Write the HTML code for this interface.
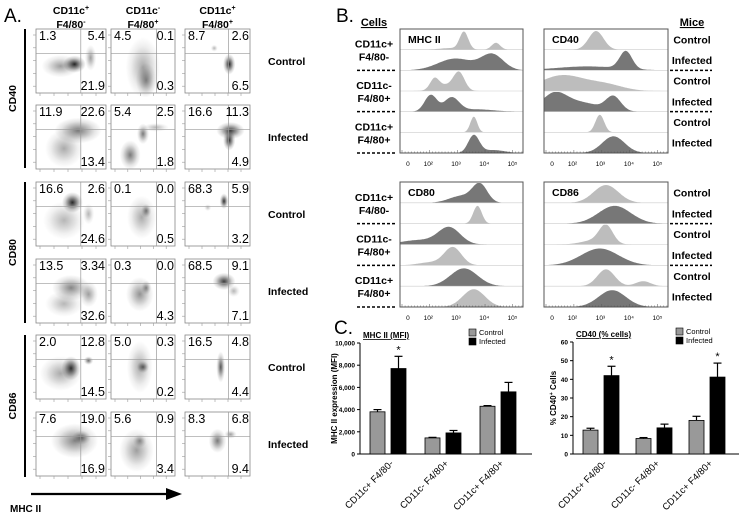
<!DOCTYPE html>
<html><head><meta charset="utf-8"><style>
html,body{margin:0;padding:0;background:#fff}
svg{display:block;font-family:"Liberation Sans",Arial,sans-serif}
</style></head><body>
<svg id="fig" width="740" height="515" viewBox="0 0 740 515" xmlns="http://www.w3.org/2000/svg">
<defs>
<radialGradient id="blob"><stop offset="0" stop-color="#000" stop-opacity="1"/><stop offset="0.35" stop-color="#000" stop-opacity="0.6"/><stop offset="0.7" stop-color="#000" stop-opacity="0.2"/><stop offset="1" stop-color="#000" stop-opacity="0"/></radialGradient>
</defs>
<g id="panelA"></g>
<g id="panelB"></g>
<g id="panelC"></g>
</svg>
<script>
// ===== Panel C data =====
const categories = ["CD11c+ F4/80-", "CD11c- F4/80+", "CD11c+ F4/80+"];
const mhcControl = [3800, 1450, 4300];
const mhcInfected = [7700, 1900, 5600];
const mhcControlErr = [200, 50, 60];
const mhcInfectedErr = [1100, 220, 850];
const mhcTicks = [0, 2000, 4000, 6000, 8000, 10000];
const mhcTickLabels = ["0", "2,000", "4,000", "6,000", "8,000", "10,000"];
const cd40Control = [12.8, 8.3, 18];
const cd40Infected = [42, 14, 41.2];
const cd40ControlErr = [1, 0.5, 2.2];
const cd40InfectedErr = [5, 2, 7.5];
const cd40Ticks = [0, 10, 20, 30, 40, 50, 60];
const mhcStars = [true, false, false];
const cd40Stars = [true, false, true];

// ===== Panel A data =====
const quadValues = [
 [[1.3,5.4,21.9],[4.5,0.1,0.3],[8.7,2.6,6.5]],
 [[11.9,22.6,13.4],[5.4,2.5,1.8],[16.6,11.3,4.9]],
 [[16.6,2.6,24.6],[0.1,0.0,0.5],[68.3,5.9,3.2]],
 [[13.5,3.34,32.6],[0.3,0.0,4.3],[68.5,9.1,7.1]],
 [[2.0,12.8,14.5],[5.0,0.3,0.2],[16.5,4.8,4.4]],
 [[7.6,19.0,16.9],[5.6,0.9,3.4],[8.3,6.8,9.4]]
];
const NS="http://www.w3.org/2000/svg";
function el(tag, attrs, parent, txt){const e=document.createElementNS(NS,tag);for(const k in attrs)e.setAttribute(k,attrs[k]);if(txt!==undefined)e.textContent=txt;parent.appendChild(e);return e;}

// ---------- Panel A ----------
(function(){
const g=document.getElementById('panelA');
let t=el('text',{x:4,y:22,'font-size':19},g,'A.');


const cols=[[36,106,.64],[111,175,.71],[185,250,.67]];
const tops=[29,105,182,259,335,412];const H=64;
const heads=[["CD11c","+","F4/80","-"],["CD11c","-","F4/80","+"],["CD11c","+","F4/80","+"]];
heads.forEach((h,i)=>{const cx=(cols[i][0]+cols[i][1])/2;
 const a=el('text',{x:cx,y:14,'font-size':10.5,'font-weight':'bold','text-anchor':'middle'},g);
 
 
 a.innerHTML=h[0]+'<tspan font-size="7" dy="-4">'+h[1]+'</tspan>';
 const b=el('text',{x:cx,y:28,'font-size':10.5,'font-weight':'bold','text-anchor':'middle'},g);
 
 
 b.innerHTML=h[2]+'<tspan font-size="7" dy="-4">'+h[3]+'</tspan>';
});
const blobs=[
 [[[.55,.55,.12,.1,.9],[.35,.58,.2,.13,.4],[.78,.45,.06,.15,.4]],[[.5,.6,.2,.35,.35],[.55,.8,.12,.2,.45]],[[.68,.55,.07,.12,.9],[.45,.3,.04,.04,.3]]],
 [[[.6,.4,.25,.15,.55],[.4,.68,.2,.22,.35]],[[.5,.45,.07,.12,.55],[.3,.78,.12,.17,.55],[.7,.35,.15,.05,.3]],[[.7,.4,.16,.1,.8],[.68,.55,.07,.12,.85]]],
 [[[.52,.32,.11,.12,.9],[.4,.6,.22,.22,.3],[.75,.5,.06,.12,.3]],[[.48,.55,.17,.25,.35],[.55,.45,.06,.08,.5]],[[.6,.3,.05,.09,.85],[.35,.4,.04,.04,.25]]],
 [[[.5,.45,.2,.15,.5],[.75,.55,.1,.15,.4],[.4,.7,.2,.15,.3]],[[.45,.55,.16,.2,.45],[.55,.45,.06,.08,.45]],[[.6,.35,.13,.1,.8],[.75,.5,.07,.07,.3]]],
 [[[.5,.52,.1,.14,.85],[.35,.6,.22,.2,.35],[.75,.4,.05,.05,.6]],[[.45,.5,.15,.3,.35],[.5,.5,.07,.07,.6]],[[.55,.5,.05,.18,.7]]],
 [[[.55,.45,.25,.2,.5],[.65,.4,.1,.08,.5]],[[.4,.6,.2,.25,.4],[.45,.45,.08,.08,.4]],[[.5,.45,.1,.14,.55],[.7,.35,.07,.05,.4]]]
];
tops.forEach((ty,r)=>{cols.forEach((c,ci)=>{
 const w=c[1]-c[0];
 const cell=el('g',{},g);
 
 
 blobs[r][ci].forEach(b=>{el('ellipse',{cx:c[0]+b[0]*w,cy:ty+b[1]*H,rx:b[2]*w*1.35,ry:b[3]*H*1.35,fill:'url(#blob)',opacity:Math.min(1,b[4]*0.95)},cell);});
 el('rect',{x:c[0],y:ty,width:w,height:H,fill:'none',stroke:'#888','stroke-width':0.8},cell);
 const vx=c[0]+c[2]*w, hy=ty+0.38*H;
 el('line',{x1:vx,y1:ty,x2:vx,y2:ty+H,stroke:'#999','stroke-width':0.7},cell);
 el('line',{x1:c[0],y1:hy,x2:c[1],y2:hy,stroke:'#999','stroke-width':0.7},cell);
 for(let k=0;k<5;k++){el('line',{x1:c[0]+4+k*w/5,y1:ty+H,x2:c[0]+4+k*w/5,y2:ty+H+3,stroke:'#999','stroke-width':0.6},cell);
   el('line',{x1:c[0]-3,y1:ty+6+k*H/5,x2:c[0],y2:ty+6+k*H/5,stroke:'#999','stroke-width':0.6},cell);}
 const q=quadValues[r][ci];
 const fmt=v=>{const s=String(v);return s.includes('.')?s:s+'.0';};
 el('text',{x:c[0]+3,y:ty+11,'font-size':12.5},cell,fmt(q[0]));
 el('text',{x:c[1]-1,y:ty+11,'font-size':12.5,'text-anchor':'end'},cell,fmt(q[1]));
 el('text',{x:c[1]-1,y:ty+H-3,'font-size':12.5,'text-anchor':'end'},cell,fmt(q[2]));
});
 const lab=el('text',{x:268,y:ty+H/2+4,'font-size':10.5,'font-weight':'bold'},g,r%2?'Infected':'Control');
 
 
});
[['CD40',29,168],['CD80',182,323],['CD86',335,477]].forEach(m=>{
 el('line',{x1:25,y1:m[1],x2:25,y2:m[2],stroke:'#000','stroke-width':2},g);
 const yl=el('text',{x:16,y:(m[1]+m[2])/2,'font-size':10.5,'font-weight':'bold','text-anchor':'middle',transform:'rotate(-90 16 '+((m[1]+m[2])/2)+')'},g,m[0]);
 
 
});
el('line',{x1:31,y1:494,x2:168,y2:494,stroke:'#000','stroke-width':2.2},g);
el('polygon',{points:'166,488 182,494 166,500',fill:'#000'},g);
const xl=el('text',{x:10,y:512,'font-size':10,'font-weight':'bold'},g,'MHC II');


})();

// ---------- Panel B ----------
const histMHC=[["l",[[.52,.035,.9],[.78,.035,.35],[.4,.08,.08]]],["d",[[.45,.14,.6],[.75,.09,.8]]],["l",[[.28,.035,.5],[.48,.045,.9],[.36,.08,.3]]],["d",[[.25,.05,.85],[.42,.06,.7],[.62,.14,.12]]],["l",[[.6,.028,.8]]],["d",[[.6,.045,.9],[.76,.09,.15]]]];
const histCD40=[["l",[[.42,.06,.95]]],["d",[[.66,.05,.9],[.35,.25,.2]]],["l",[[.15,.18,.8],[.5,.14,.3]]],["d",[[.08,.1,.85],[.56,.06,.72],[.3,.15,.45]]],["l",[[.45,.035,.9]]],["d",[[.56,.09,.85]]]];
const histCD80=[["d",[[.65,.06,.9],[.5,.1,.35]]],["l",[[.63,.035,.9]]],["d",[[.4,.09,.85],[.15,.14,.22]]],["l",[[.43,.07,.9],[.25,.1,.15]]],["d",[[.52,.11,.9]]],["l",[[.6,.09,.9]]]];
const histCD86=[["l",[[.5,.1,.9]]],["d",[[.57,.13,.9]]],["l",[[.5,.055,.9],[.4,.1,.2]]],["d",[[.45,.15,.85]]],["l",[[.5,.07,.85],[.8,.06,.25]]],["d",[[.55,.11,.85]]]];
(function(){
const g=document.getElementById('panelB');
let t=el('text',{x:336,y:22,'font-size':19},g,'B.');


const boxes=[[400,523,29,153,'MHC II',histMHC],[544,668,29,153,'CD40',histCD40],[400,523,182,307,'CD80',histCD80],[544,668,182,307,'CD86',histCD86]];
boxes.forEach(b=>{
 const[x0,x1,y0,y1,name,data]=b;const w=x1-x0,rh=(y1-y0)/6;
 const bx=el('g',{},g);
 
 
 data.forEach((row,i)=>{
  const base=y0+(i+1)*rh;
  let d='M'+x0+','+base;
  for(let s=0;s<=120;s++){const f=s/120;let v=0;row[1].forEach(p=>{v+=p[2]*Math.exp(-0.5*Math.pow((f-p[0])/p[1],2));});v=Math.min(v,1);d+=' L'+(x0+f*w).toFixed(1)+','+(base-v*rh*0.95).toFixed(1);}
  d+=' L'+x1+','+base+' Z';
  const p=el('path',{d:d,fill:row[0]==='l'?'#bdbdbd':'#777'},bx);
  
  
  el('line',{x1:x0,y1:base,x2:x1,y2:base,stroke:'#ccc','stroke-width':0.6},bx);
 });
 el('rect',{x:x0,y:y0,width:w,height:y1-y0,fill:'none',stroke:'#555','stroke-width':1},bx);
 el('text',{x:x0+8,y:y0+14,'font-size':10.5,'font-weight':'bold'},bx,name);
 const tl=[['0',.065],['10²',.23],['10³',.455],['10⁴',.685],['10⁵',.915]];
 tl.forEach(tk=>el('text',{x:x0+tk[1]*w,y:y1+13,'font-size':6.5,'text-anchor':'middle'},bx,tk[0]));
 for(let k=0;k<40;k++){el('line',{x1:x0+2+k*w/40,y1:y1,x2:x0+2+k*w/40,y2:y1-(k%9===0?3:1.5),stroke:'#555','stroke-width':0.5},bx);}
});
const c1=el('text',{x:374,y:26,'font-size':11,'font-weight':'bold','text-anchor':'middle','text-decoration':'underline'},g,'Cells');


const m1=el('text',{x:692,y:26,'font-size':11,'font-weight':'bold','text-anchor':'middle','text-decoration':'underline'},g,'Mice');


const cellNames=[['CD11c+','F4/80-'],['CD11c-','F4/80+'],['CD11c+','F4/80+']];
[[29,153],[182,307]].forEach(bb=>{const rh=(bb[1]-bb[0])/6;
 cellNames.forEach((cn,i)=>{const cy=bb[0]+rh*(2*i+1);
  el('text',{x:374,y:cy-2,'font-size':10.5,'font-weight':'bold','text-anchor':'middle'},g,cn[0]);
  el('text',{x:374,y:cy+11,'font-size':10.5,'font-weight':'bold','text-anchor':'middle'},g,cn[1]);
  const dy=bb[0]+rh*2*(i+1);
  el('line',{x1:357,y1:dy,x2:397,y2:dy,stroke:'#000','stroke-width':1.5,'stroke-dasharray':'3,2'},g);
  if(i<2)el('line',{x1:670,y1:dy,x2:712,y2:dy,stroke:'#000','stroke-width':1.5,'stroke-dasharray':'3,2'},g);
 });
 for(let i=0;i<6;i++){const m=el('text',{x:692,y:bb[0]+rh*(i+0.5)+4,'font-size':10.5,'font-weight':'bold','text-anchor':'middle'},g,i%2?'Infected':'Control');
  
  }
});
})();

// ---------- Panel C ----------
(function(){
const g=document.getElementById('panelC');
let t=el('text',{x:334,y:334,'font-size':19},g,'C.');


function chart(opt){
 const{x0,x1,yTop,yBot,max,ticks,tickLabels,ctrl,inf,ce,ie,stars,title,ytitle,ytx,pitch,first,legX}=opt;
 const cg=el('g',{},g);
 
 
 const ys=v=>yBot-(v/max)*(yBot-yTop);
 const bw=15;
 el('line',{x1:x0,y1:yTop,x2:x0,y2:yBot,stroke:'#000','stroke-width':1},cg);
 el('line',{x1:x0,y1:yBot,x2:x1,y2:yBot,stroke:'#000','stroke-width':1},cg);
 ticks.forEach((tv,i)=>{const y=ys(tv);el('line',{x1:x0-3,y1:y,x2:x0,y2:y,stroke:'#000'},cg);
  const tl=el('text',{x:x0-5,y:y+2.5,'font-size':6.5,'font-weight':'bold','text-anchor':'end'},cg,tickLabels[i]);
  
  });
 categories.forEach((cat,i)=>{
  const gx=first+i*pitch;
  [[ctrl[i],ce[i],'#999',gx],[inf[i],ie[i],'#000',gx+bw+6]].forEach((b,j)=>{
   const y=ys(b[0]),ye=ys(b[0]+b[1]);
   el('line',{x1:b[3]+bw/2,y1:ye,x2:b[3]+bw/2,y2:y,stroke:'#000','stroke-width':1.2},cg);
   el('line',{x1:b[3]+bw/2-4,y1:ye,x2:b[3]+bw/2+4,y2:ye,stroke:'#000','stroke-width':1.2},cg);
   const r=el('rect',{x:b[3],y:y,width:bw,height:yBot-y,fill:b[2],stroke:'#000','stroke-width':0.8},cg);
   
   
  });
  if(stars[i])el('text',{x:gx+bw+6+bw/2,y:ys(inf[i]+ie[i])-3,'font-size':11,'text-anchor':'middle'},cg,'*');
  const cx=gx+bw+3;
  const xl=el('text',{x:cx+6,y:yBot+10,'font-size':9.5,'text-anchor':'end',transform:'rotate(-45 '+(cx+6)+' '+(yBot+10)+')'},cg,cat);
  
  
 });
 el('text',{x:x0+3,y:yTop-5,'font-size':8,'font-weight':'bold','text-decoration':'underline'},cg,title);
 const yt=el('text',{x:ytx,y:(yTop+yBot)/2,'font-size':8,'font-weight':'bold','text-anchor':'middle',transform:'rotate(-90 '+ytx+' '+((yTop+yBot)/2)+')'},cg);
 yt.innerHTML=ytitle;
 
 
 [['Control','#999',0],['Infected','#000',1]].forEach(l=>{
  const lg=el('g',{},cg);
  
  
  el('rect',{x:legX,y:yTop-14+l[2]*9,width:7,height:7,fill:l[1],stroke:'#000','stroke-width':0.6},lg);
  el('text',{x:legX+10,y:yTop-8+l[2]*9,'font-size':7.5},lg,l[0]);
 });
}
chart({name:'mhc-ii-bar-chart',x0:360,x1:532,yTop:343,yBot:454,max:10000,ticks:mhcTicks,tickLabels:mhcTickLabels,ctrl:mhcControl,inf:mhcInfected,ce:mhcControlErr,ie:mhcInfectedErr,stars:mhcStars,title:'MHC II (MFI)',ytitle:'MHC II expression (MFI)',ytx:337,pitch:55,first:370,legX:469});
chart({name:'cd40-bar-chart',x0:573,x1:739,yTop:342,yBot:454,max:60,ticks:cd40Ticks,tickLabels:cd40Ticks.map(String),ctrl:cd40Control,inf:cd40Infected,ce:cd40ControlErr,ie:cd40InfectedErr,stars:cd40Stars,title:'CD40 (% cells)',ytitle:'% CD40<tspan font-size="5.5" dy="-3">+</tspan><tspan dy="3"> Cells</tspan>',ytx:556,pitch:53,first:583,legX:676});
})();
</script>
</body></html>
